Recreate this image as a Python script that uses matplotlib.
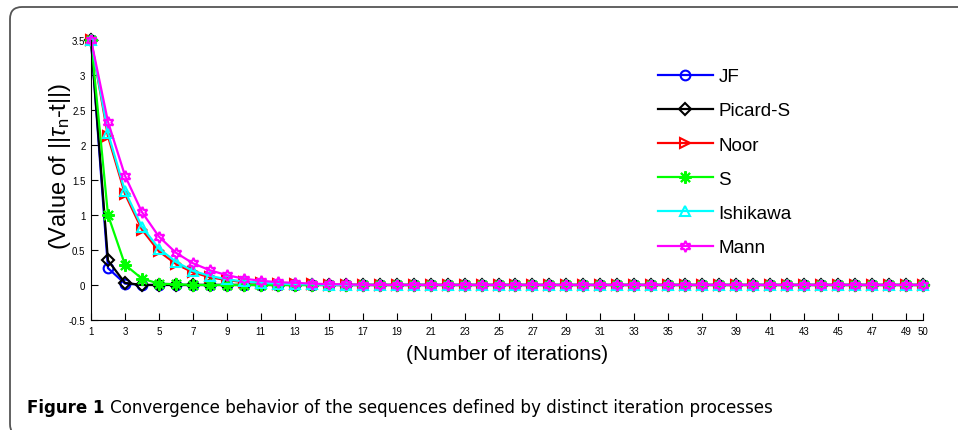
import matplotlib.pyplot as plt
from matplotlib.patches import FancyBboxPatch
from matplotlib.transforms import IdentityTransform

iterations = list(range(1, 51))

jf = [3.5, 0.24, 0.02, 0.0, 0.0, 0.0, 0.0, 0.0, 0.0, 0.0,
      0.0, 0.0, 0.0, 0.0, 0.0, 0.0, 0.0, 0.0, 0.0, 0.0,
      0.0, 0.0, 0.0, 0.0, 0.0, 0.0, 0.0, 0.0, 0.0, 0.0,
      0.0, 0.0, 0.0, 0.0, 0.0, 0.0, 0.0, 0.0, 0.0, 0.0,
      0.0, 0.0, 0.0, 0.0, 0.0, 0.0, 0.0, 0.0, 0.0, 0.0]
picard_s = [3.5, 0.35, 0.03, 0.0, 0.0, 0.0, 0.0, 0.0, 0.0, 0.0,
            0.0, 0.0, 0.0, 0.0, 0.0, 0.0, 0.0, 0.0, 0.0, 0.0,
            0.0, 0.0, 0.0, 0.0, 0.0, 0.0, 0.0, 0.0, 0.0, 0.0,
            0.0, 0.0, 0.0, 0.0, 0.0, 0.0, 0.0, 0.0, 0.0, 0.0,
            0.0, 0.0, 0.0, 0.0, 0.0, 0.0, 0.0, 0.0, 0.0, 0.0]
noor = [3.5, 2.12, 1.30, 0.79, 0.48, 0.30, 0.18, 0.11, 0.07, 0.04,
        0.03, 0.02, 0.01, 0.01, 0.0, 0.0, 0.0, 0.0, 0.0, 0.0,
        0.0, 0.0, 0.0, 0.0, 0.0, 0.0, 0.0, 0.0, 0.0, 0.0,
        0.0, 0.0, 0.0, 0.0, 0.0, 0.0, 0.0, 0.0, 0.0, 0.0,
        0.0, 0.0, 0.0, 0.0, 0.0, 0.0, 0.0, 0.0, 0.0, 0.0]
s_iter = [3.5, 1.0, 0.29, 0.09, 0.02, 0.01, 0.0, 0.0, 0.0, 0.0,
          0.0, 0.0, 0.0, 0.0, 0.0, 0.0, 0.0, 0.0, 0.0, 0.0,
          0.0, 0.0, 0.0, 0.0, 0.0, 0.0, 0.0, 0.0, 0.0, 0.0,
          0.0, 0.0, 0.0, 0.0, 0.0, 0.0, 0.0, 0.0, 0.0, 0.0,
          0.0, 0.0, 0.0, 0.0, 0.0, 0.0, 0.0, 0.0, 0.0, 0.0]
ishikawa = [3.5, 2.17, 1.34, 0.83, 0.52, 0.33, 0.20, 0.13, 0.08, 0.05,
            0.03, 0.02, 0.01, 0.01, 0.0, 0.0, 0.0, 0.0, 0.0, 0.0,
            0.0, 0.0, 0.0, 0.0, 0.0, 0.0, 0.0, 0.0, 0.0, 0.0,
            0.0, 0.0, 0.0, 0.0, 0.0, 0.0, 0.0, 0.0, 0.0, 0.0,
            0.0, 0.0, 0.0, 0.0, 0.0, 0.0, 0.0, 0.0, 0.0, 0.0]
mann = [3.5, 2.33, 1.56, 1.04, 0.69, 0.46, 0.31, 0.21, 0.14, 0.09,
        0.06, 0.04, 0.03, 0.02, 0.01, 0.01, 0.0, 0.0, 0.0, 0.0,
        0.0, 0.0, 0.0, 0.0, 0.0, 0.0, 0.0, 0.0, 0.0, 0.0,
        0.0, 0.0, 0.0, 0.0, 0.0, 0.0, 0.0, 0.0, 0.0, 0.0,
        0.0, 0.0, 0.0, 0.0, 0.0, 0.0, 0.0, 0.0, 0.0, 0.0]

x_ticks = list(range(1, 50, 2)) + [50]
y_ticks = [-0.5, 0, 0.5, 1, 1.5, 2, 2.5, 3, 3.5]
y_tick_labels = ['-0.5', '0', '0.5', '1', '1.5', '2', '2.5', '3', '3.5']

series = [
    ('JF', jf, '#0000ff', 'o', 7),
    ('Picard-S', picard_s, '#000000', 'D', 6),
    ('Noor', noor, '#ff0000', '>', 7),
    ('S', s_iter, '#00ff00', (8, 2, 0), 9),
    ('Ishikawa', ishikawa, '#00ffff', '^', 7.5),
    ('Mann', mann, '#ff00ff', (6, 1, 0), 8),
]

plt.rcParams['font.family'] = ['Liberation Sans', 'DejaVu Sans']
plt.rcParams['mathtext.fontset'] = 'custom'
plt.rcParams['mathtext.rm'] = 'Liberation Sans'
plt.rcParams['mathtext.it'] = 'Liberation Sans:italic'

fig = plt.figure(figsize=(9.58, 4.31), dpi=100)

# rounded frame, drawn in pixels so the corners stay round
frame = FancyBboxPatch((10, -6), 1000, 431 - 8 + 6,
                       boxstyle='round,pad=0,rounding_size=12',
                       transform=IdentityTransform(), facecolor='none',
                       edgecolor='#555555', linewidth=1.3, clip_on=False)
fig.patches.append(frame)

ax = fig.add_axes([91 / 958, 1 - 321 / 431, 832 / 958, 280.3 / 431])
for name, vals, color, marker, ms in series:
    ax.plot(iterations, vals, color=color, marker=marker, markersize=ms,
            markerfacecolor='none', markeredgecolor=color, markeredgewidth=1.5,
            linewidth=1.6, label=name, clip_on=False)

ax.set_xlim(1, 50)
ax.set_ylim(-0.5, 3.5)
ax.set_xticks(x_ticks)
ax.set_xticklabels([str(t) for t in x_ticks])
ax.set_yticks(y_ticks)
ax.set_yticklabels(y_tick_labels)
ax.tick_params(direction='in', length=5, width=0.8, labelsize=7, pad=4)
ax.spines['top'].set_visible(False)
ax.spines['right'].set_visible(False)
ax.set_xlabel('(Number of iterations)', fontsize=15, labelpad=6)
ax.set_ylabel(r'(Value of ||$\tau_{\rm n}$-t||)', fontsize=17)
ax.yaxis.set_label_coords(-0.022, 0.55)

ax.legend(frameon=False, loc='upper left', bbox_to_anchor=(0.661, 0.96),
          fontsize=13.6, handlelength=2.9, labelspacing=0.9,
          handletextpad=0.3)

fig.text(27 / 958, 1 - 408 / 431, 'Figure 1', fontsize=12, fontweight='bold',
         va='center', ha='left',
         family=['Liberation Sans Narrow', 'DejaVu Sans'])
fig.text(110 / 958, 1 - 408 / 431,
         'Convergence behavior of the sequences defined by distinct iteration processes',
         fontsize=12.1, va='center', ha='left',
         family=['Liberation Sans Narrow', 'DejaVu Sans'])

plt.savefig('out.png', dpi=100)
plt.close()
